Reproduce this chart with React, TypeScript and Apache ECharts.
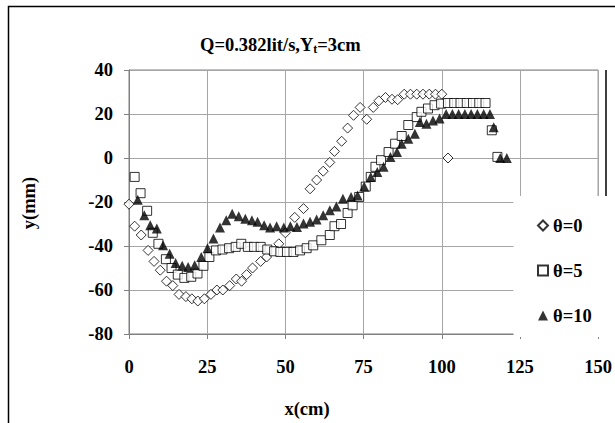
import { useEffect, useRef } from "react";
import * as echarts from "echarts";

const xTicks = { min: 0, max: 150, interval: 25 };
const yTicks = { min: -80, max: 40, interval: 20 };

const theta0X = [0, 1.8, 3.9, 6.1, 8, 10, 12, 14, 16, 18.2, 20.1, 22, 24.1, 26.2, 28.1, 30, 32.2, 34.3, 36, 37.6, 39.5, 42.1, 44, 47.9, 50, 53, 55.8, 57.9, 60, 62.1, 64.2, 65.7, 68, 69.9, 71.8, 73.9, 76, 78.1, 79.9, 82, 84.1, 85.9, 88, 90, 92, 94, 96, 98, 100, 102];
const theta0Y = [-21, -31, -35, -42, -47, -51, -56, -58, -62, -63, -64, -65, -64, -62, -60, -60, -58, -55, -56, -53, -50, -47, -45, -39, -34, -27, -23, -14, -10, -6, -2, 3, 7.6, 13.6, 19.4, 23, 17.6, 23, 26, 27.5, 26.7, 26.5, 29, 29, 29, 29, 29, 29, 29, 0];

const theta5X = [1.8, 3.7, 5.8, 7.6, 9.4, 11.8, 13.6, 15.6, 17.7, 19.9, 21.9, 23.8, 25.7, 27.8, 29.9, 32, 34.1, 35.9, 38, 40, 42.1, 44.2, 46.4, 48.4, 50.5, 52.6, 54.7, 56.8, 58.9, 61.5, 64.2, 65.7, 67.8, 69.9, 71.5, 73.6, 75.7, 77.3, 78.8, 80.6, 83, 85.1, 87.2, 89.3, 92, 93.5, 95.6, 97.7, 99.8, 102, 104, 106, 108, 110, 112, 114, 116, 117.8];
const theta5Y = [-8.6, -16, -24, -34, -39, -46, -50, -53, -54.5, -54, -52.5, -49, -45, -42, -41.6, -41, -40.4, -39, -40.4, -40.4, -40.4, -41.6, -42.4, -42.7, -42.7, -42.7, -42, -41, -39.7, -37.4, -35, -31, -30, -25, -21.5, -17.7, -13, -8.6, -4, -1, 2.7, 6.5, 10, 15, 18.6, 21, 22.5, 24, 24.7, 25, 25, 25, 25, 25, 25, 25, 12.6, 0.5];

const theta10X = [2.8, 4.9, 6.8, 8.9, 10.9, 13, 14.9, 17, 18.9, 21, 23.1, 25.1, 27, 29.1, 31.1, 33, 35.1, 37.2, 39.3, 41.1, 43.2, 45.1, 47.2, 49.5, 51.6, 53.7, 55.8, 57.9, 60, 62.1, 64.2, 66.3, 68.4, 71, 73.1, 75.2, 77.3, 79.4, 81.4, 83.6, 85.7, 87.2, 89.3, 91.4, 93, 95.1, 97.2, 99.3, 101.4, 103.4, 105.4, 107.4, 109.4, 111.4, 113.4, 115.4, 116.6, 118.7, 120.8];
const theta10Y = [-19, -26, -30.6, -32, -39.7, -43.5, -47.7, -49, -49.5, -48.8, -45, -41, -36.6, -31.6, -28.3, -25.3, -26.5, -27.6, -28.3, -29, -30.6, -31.6, -31, -31.6, -31, -31.4, -29.8, -29, -28, -26, -23.8, -22, -18.5, -17.7, -17, -13, -8.6, -6.4, -4, 0.5, 2.7, 6.5, 8.8, 11, 16.4, 15.6, 17, 18, 20, 20, 20, 20, 20, 20, 20, 20, 14, 0, 0];

const seriesNames = ["θ=0", "θ=5", "θ=10"];

const FONT = "'Liberation Serif', 'Times New Roman', serif";
const FS = 18.5;

function pairs(xs: number[], ys: number[]) {
  return xs.map((x, i) => [x, ys[i]]);
}

export default function App() {
  const ref = useRef<HTMLDivElement>(null);
  useEffect(() => {
    if (!ref.current) return;
    const chart = echarts.init(ref.current, null, { renderer: "svg" });
    const hollow = { color: "#ffffff", borderColor: "#000000", borderWidth: 1 };
    chart.setOption({
      animation: false,
      backgroundColor: "#ffffff",
      title: {
        text: "Q=0.382lit/s,Y{t|t}=3cm",
        left: 195,
        top: 29,
        textStyle: {
          fontFamily: FONT,
          fontWeight: "bold",
          fontSize: FS,
          color: "#000",
          rich: {
            t: { fontFamily: FONT, fontWeight: "bold", fontSize: 12, color: "#000", padding: [9, 0, 0, 0] },
          },
        },
      },
      grid: {
        left: 129,
        right: 9,
        top: 70,
        bottom: 89,
        show: true,
        borderColor: "#808080",
        borderWidth: 1,
      },
      xAxis: {
        type: "value",
        min: xTicks.min,
        max: xTicks.max,
        interval: xTicks.interval,
        axisLine: { show: true, onZero: false, lineStyle: { color: "#808080", width: 1 } },
        axisTick: { show: true, length: 5, lineStyle: { color: "#808080" } },
        splitLine: { show: true, lineStyle: { color: "#a6a6a6", width: 1 } },
        axisLabel: { margin: 23, fontFamily: FONT, fontWeight: "bold", fontSize: FS, color: "#000" },
      },
      yAxis: {
        type: "value",
        min: yTicks.min,
        max: yTicks.max,
        interval: yTicks.interval,
        axisLine: { show: true, onZero: false, lineStyle: { color: "#808080", width: 1 } },
        axisTick: { show: true, length: 5, lineStyle: { color: "#808080" } },
        splitLine: { show: true, lineStyle: { color: "#a6a6a6", width: 1 } },
        axisLabel: { margin: 16, fontFamily: FONT, fontWeight: "bold", fontSize: FS, color: "#000" },
      },
      legend: {
        orient: "vertical",
        left: 532,
        top: 211,
        itemGap: 26,
        itemWidth: 10,
        itemHeight: 10,
        z: 110,
        data: seriesNames,
        textStyle: { fontFamily: FONT, fontWeight: "bold", fontSize: FS, color: "#000" },
      },
      graphic: [
        {
          type: "rect",
          z: 100,
          shape: { x: 513.5, y: 196, width: 110, height: 141 },
          style: { fill: "#ffffff", stroke: null },
        },
        {
          type: "line",
          z: 99,
          shape: { x1: 606, y1: 70, x2: 606, y2: 196 },
          style: { stroke: "#000", lineWidth: 1.5 },
        },
        {
          type: "rect",
          z: 100,
          shape: { x: 8.5, y: 6.5, width: 700, height: 500 },
          style: { fill: "none", stroke: "#000", lineWidth: 1.5 },
        },
        {
          type: "text",
          z: 100,
          x: 29,
          y: 203,
          rotation: Math.PI / 2,
          style: {
            text: "y(mm)",
            fontFamily: FONT,
            fontWeight: "bold",
            fontSize: FS,
            fill: "#000",
            align: "center",
            verticalAlign: "middle",
          },
        },
        {
          type: "text",
          z: 100,
          x: 307,
          y: 409,
          style: {
            text: "x(cm)",
            fontFamily: FONT,
            fontWeight: "bold",
            fontSize: FS,
            fill: "#000",
            align: "center",
            verticalAlign: "middle",
          },
        },
      ],
      series: [
        {
          name: seriesNames[0],
          type: "scatter",
          symbol: "diamond",
          symbolSize: [10, 10],
          itemStyle: hollow,
          data: pairs(theta0X, theta0Y),
        },
        {
          name: seriesNames[1],
          type: "scatter",
          symbol: "rect",
          symbolSize: 9,
          itemStyle: hollow,
          data: pairs(theta5X, theta5Y),
        },
        {
          name: seriesNames[2],
          type: "scatter",
          symbol: "triangle",
          symbolSize: 10,
          itemStyle: { color: "#000000" },
          data: pairs(theta10X, theta10Y),
        },
      ],
    });
    return () => chart.dispose();
  }, []);
  return (
    <div
      ref={ref}
      style={{ position: "absolute", left: 0, top: 0, width: 615, height: 423 }}
    />
  );
}
